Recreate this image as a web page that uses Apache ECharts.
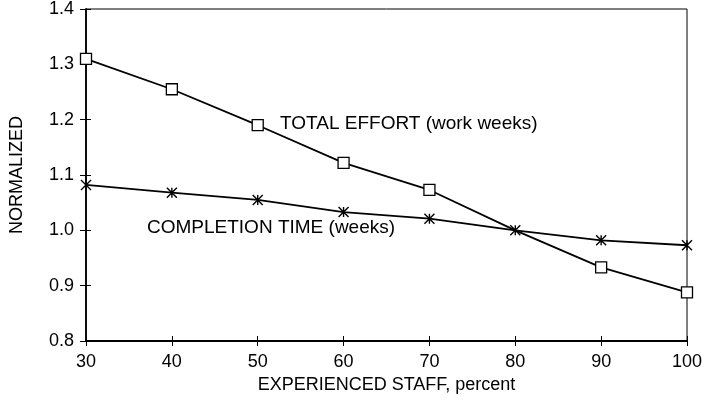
<!DOCTYPE html>
<html>
<head>
<meta charset="utf-8">
<script src="https://cdn.jsdelivr.net/npm/echarts@6/dist/echarts.min.js"></script>
<style>
  html, body { margin: 0; padding: 0; background: #fff; }
  #chart { width: 706px; height: 404px; }
</style>
</head>
<body>
<div id="chart"></div>
<script>
var staffPct = [30, 40, 50, 60, 70, 80, 90, 100];
var totalEffort = [1.31, 1.255, 1.19, 1.122, 1.073, 1.0, 0.933, 0.888];
var completionTime = [1.082, 1.068, 1.055, 1.033, 1.021, 1.0, 0.982, 0.973];

function pairs(ys) {
  return staffPct.map(function (x, i) { return [x, ys[i]]; });
}

// in the original, the crossing at 80% shows only the asterisk
var effortData = pairs(totalEffort).map(function (p) {
  return p[0] === 80 ? { value: p, symbol: 'none' } : p;
});

var font = 'Liberation Sans, Arial, sans-serif';
var star = 'path://M0,0 L10,10 M10,0 L0,10 M5,0 L5,10 M5,10 Z';

var myChart = echarts.init(document.getElementById('chart'));
myChart.setOption({
  animation: false,
  grid: {
    left: 85, top: 9, right: 19, bottom: 63,
    show: true, borderColor: '#000', borderWidth: 1
  },
  xAxis: [{
    type: 'value', min: 30, max: 100, interval: 10,
    name: 'EXPERIENCED STAFF, percent', nameLocation: 'middle', nameGap: 35,
    nameTextStyle: { color: '#000', fontSize: 18, fontFamily: font },
    axisLine: { onZero: false, lineStyle: { color: '#000', width: 1.8 } },
    axisTick: { length: 5, lineStyle: { color: '#000' } },
    axisLabel: { color: '#000', fontSize: 18, fontFamily: font, margin: 12 },
    splitLine: { show: false }
  }, {
    type: 'value', min: 30, max: 100, interval: 10, position: 'bottom',
    axisLine: { show: false },
    axisTick: { inside: true, length: 5, lineStyle: { color: '#000' } },
    axisLabel: { show: false }, splitLine: { show: false }
  }],
  yAxis: [{
    type: 'value', min: 0.8, max: 1.4, interval: 0.1,
    name: 'NORMALIZED', nameLocation: 'middle', nameGap: 60, nameRotate: 90,
    nameTextStyle: { color: '#000', fontSize: 18, fontFamily: font },
    axisLine: { onZero: false, lineStyle: { color: '#000', width: 1.8 } },
    axisTick: { length: 6, lineStyle: { color: '#000' } },
    axisLabel: { color: '#000', fontSize: 18, fontFamily: font, margin: 12,
      formatter: function (v) { return v.toFixed(1); } },
    splitLine: { show: false }
  }, {
    type: 'value', min: 0.8, max: 1.4, interval: 0.1, position: 'left',
    axisLine: { show: false },
    axisTick: { inside: true, length: 5, lineStyle: { color: '#000' } },
    axisLabel: { show: false }, splitLine: { show: false }
  }],
  graphic: [
    { type: 'text', left: 280, top: 114,
      style: { text: 'TOTAL EFFORT (work weeks)', fill: '#000', fontSize: 19, fontFamily: font } },
    { type: 'text', left: 147, top: 218,
      style: { text: 'COMPLETION TIME (weeks)', fill: '#000', fontSize: 19, fontFamily: font } }
  ],
  series: [{
    name: 'TOTAL EFFORT', type: 'line', data: effortData,
    symbol: 'rect', symbolSize: 11,
    lineStyle: { color: '#000', width: 1.8 },
    itemStyle: { color: '#fff', borderColor: '#000', borderWidth: 1.3 },
    z: 3
  }, {
    name: 'COMPLETION TIME', type: 'line', data: pairs(completionTime),
    symbol: star, symbolSize: 10,
    lineStyle: { color: '#000', width: 1.8 },
    itemStyle: { color: 'none', borderColor: '#000', borderWidth: 1.4 },
    z: 4
  }]
});
</script>
</body>
</html>
